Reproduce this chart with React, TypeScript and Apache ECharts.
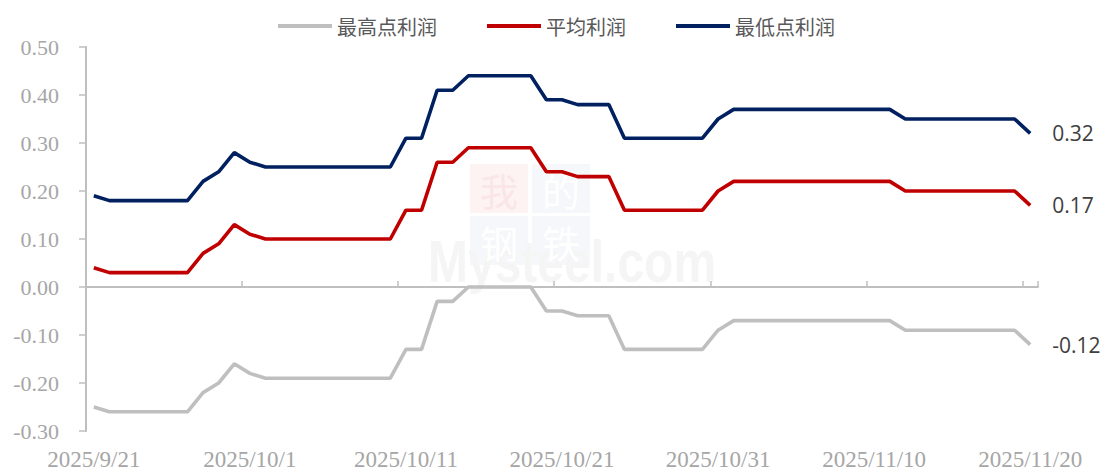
import React, { useEffect, useRef } from "react";
import * as echarts from "echarts";

// Categories: daily dates 2025/9/21 .. 2025/11/20
const dates: string[] = [];
for (let i = 0; i < 61; i++) {
  const d = new Date(2025, 8, 21 + i);
  dates.push(`${d.getFullYear()}/${d.getMonth() + 1}/${d.getDate()}`);
}

const seriesNames = ["最高点利润", "平均利润", "最低点利润"];

const highProfit = [
  -0.25, -0.26, -0.26, -0.26, -0.26, -0.26, -0.26, -0.22, -0.2, -0.16,
  -0.18, -0.19, -0.19, -0.19, -0.19, -0.19, -0.19, -0.19, -0.19, -0.19,
  -0.13, -0.13, -0.03, -0.03, 0.0, 0.0, 0.0, 0.0, 0.0, -0.05,
  -0.05, -0.06, -0.06, -0.06, -0.13, -0.13, -0.13, -0.13, -0.13, -0.13,
  -0.09, -0.07, -0.07, -0.07, -0.07, -0.07, -0.07, -0.07, -0.07, -0.07,
  -0.07, -0.07, -0.09, -0.09, -0.09, -0.09, -0.09, -0.09, -0.09, -0.09,
  -0.12,
];

const avgProfit = [
  0.04, 0.03, 0.03, 0.03, 0.03, 0.03, 0.03, 0.07, 0.09, 0.13,
  0.11, 0.1, 0.1, 0.1, 0.1, 0.1, 0.1, 0.1, 0.1, 0.1,
  0.16, 0.16, 0.26, 0.26, 0.29, 0.29, 0.29, 0.29, 0.29, 0.24,
  0.24, 0.23, 0.23, 0.23, 0.16, 0.16, 0.16, 0.16, 0.16, 0.16,
  0.2, 0.22, 0.22, 0.22, 0.22, 0.22, 0.22, 0.22, 0.22, 0.22,
  0.22, 0.22, 0.2, 0.2, 0.2, 0.2, 0.2, 0.2, 0.2, 0.2,
  0.17,
];

const lowProfit = [
  0.19, 0.18, 0.18, 0.18, 0.18, 0.18, 0.18, 0.22, 0.24, 0.28,
  0.26, 0.25, 0.25, 0.25, 0.25, 0.25, 0.25, 0.25, 0.25, 0.25,
  0.31, 0.31, 0.41, 0.41, 0.44, 0.44, 0.44, 0.44, 0.44, 0.39,
  0.39, 0.38, 0.38, 0.38, 0.31, 0.31, 0.31, 0.31, 0.31, 0.31,
  0.35, 0.37, 0.37, 0.37, 0.37, 0.37, 0.37, 0.37, 0.37, 0.37,
  0.37, 0.37, 0.35, 0.35, 0.35, 0.35, 0.35, 0.35, 0.35, 0.35,
  0.32,
];

const colors = ["#BFBFBF", "#C00000", "#002060"];

export default function App() {
  const ref = useRef<HTMLDivElement>(null);

  useEffect(() => {
    if (!ref.current) return;
    const chart = echarts.init(ref.current, undefined, { renderer: "svg" });
    const axisGray = "#BFBFBF";
    const labelGray = "#A6A6A6";
    const serif = "Liberation Serif";

    const mkSeries = (name: string, data: number[], color: string) => ({
      name,
      type: "line",
      data,
      symbol: "none",
      z: 5,
      lineStyle: { color, width: 3.6 },
      itemStyle: { color },
      endLabel: {
        show: true,
        distance: 22,
        formatter: (p: any) => Number(p.value).toFixed(2),
        color: "#404040",
        fontFamily: "Open Sans",
        fontSize: 21,
      },
    });

    const wmBox = (x: number, y: number, fill: string) => ({
      type: "rect",
      shape: { x, y, width: 58, height: 49 },
      style: { fill },
      z: 0,
    });
    const wmChar = (x: number, y: number, t: string, fill: string) => ({
      type: "text",
      x,
      y,
      style: {
        text: t,
        fill,
        fontFamily: "Noto Sans CJK SC",
        fontSize: 38,
        lineHeight: 40,
        align: "center",
        verticalAlign: "middle",
      },
      z: 1,
    });

    chart.setOption({
      animation: false,
      backgroundColor: "#ffffff",
      graphic: {
        elements: [
          wmBox(470, 164, "#fdf3f3"),
          wmBox(532, 164, "#f6f7fa"),
          wmBox(470, 216, "#f6f7fa"),
          wmBox(532, 216, "#f6f7fa"),
          wmChar(499, 189, "我", "#fae6e6"),
          wmChar(561, 189, "的", "#ffffff"),
          wmChar(499, 241, "钢", "#ffffff"),
          wmChar(561, 241, "铁", "#ffffff"),
          {
            type: "text",
            x: 428,
            y: 292,
            scaleX: 0.8,
            style: {
              text: "Mysteel.com",
              fill: "#f5f5f5",
              fontFamily: "Liberation Sans",
              fontWeight: "bold",
              fontSize: 60,
              align: "left",
              verticalAlign: "bottom",
            },
            z: 0,
          },
        ],
      },
      legend: {
        data: seriesNames,
        left: 273,
        top: 11,
        icon: "rect",
        itemWidth: 54,
        itemHeight: 4,
        itemGap: 50,
        textStyle: {
          fontFamily: "Noto Sans CJK SC",
          fontSize: 20,
          color: "#595959",
        },
      },
      grid: {
        left: 86,
        right: 73,
        top: 47,
        bottom: 41,
        containLabel: false,
        outerBoundsMode: "none",
      },
      xAxis: [
        {
          type: "category",
          data: dates,
          boundaryGap: true,
          axisLine: { show: true, onZero: true, lineStyle: { color: axisGray, width: 2 } },
          axisTick: {
            show: true,
            inside: true,
            length: 6,
            interval: 9,
            lineStyle: { color: axisGray, width: 1.5 },
          },
          axisLabel: { show: false },
          splitLine: { show: false },
        },
        {
          type: "category",
          data: dates,
          position: "bottom",
          boundaryGap: true,
          axisLine: { show: false },
          axisTick: { show: false },
          axisLabel: {
            show: true,
            interval: 9,
            margin: 17,
            color: labelGray,
            fontFamily: serif,
            fontSize: 23,
          },
          splitLine: { show: false },
        },
      ],
      yAxis: {
        type: "value",
        min: -0.3,
        max: 0.5,
        interval: 0.1,
        axisLine: { show: true, lineStyle: { color: axisGray, width: 2 } },
        axisTick: { show: true, length: 7, lineStyle: { color: axisGray, width: 1.5 } },
        axisLabel: {
          formatter: (v: number) => v.toFixed(2),
          margin: 27,
          color: labelGray,
          fontFamily: serif,
          fontSize: 22,
        },
        splitLine: { show: false },
      },
      series: [
        mkSeries(seriesNames[0], highProfit, colors[0]),
        mkSeries(seriesNames[1], avgProfit, colors[1]),
        mkSeries(seriesNames[2], lowProfit, colors[2]),
      ],
    });

    return () => chart.dispose();
  }, []);

  return (
    <div
      ref={ref}
      style={{ position: "fixed", left: 0, top: 0, width: 1111, height: 472 }}
    />
  );
}
